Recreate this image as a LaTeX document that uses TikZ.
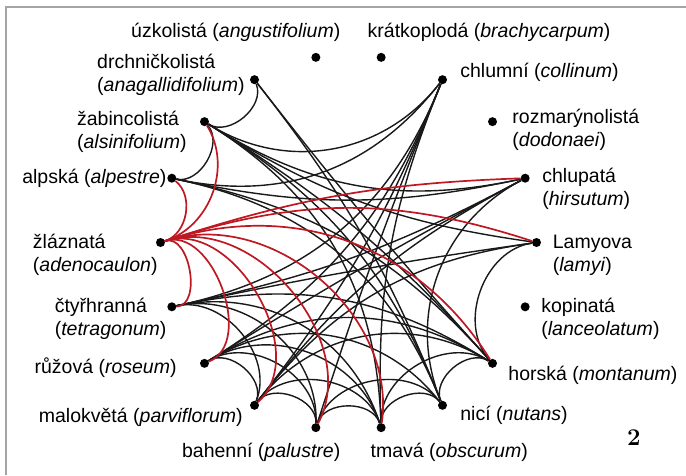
\documentclass[tikz,border=0pt]{standalone}
\usepackage{fontspec}
\setsansfont{Liberation Sans}
\usepackage{tikz}
\usetikzlibrary{positioning, backgrounds}
\definecolor{hybred}{RGB}{190,25,35}
\definecolor{framegray}{RGB}{165,165,165}

\begin{document}
\begin{tikzpicture}[x=1pt, y=1pt, node distance=10pt,
  dot/.style={circle, fill=black, inner sep=0pt, minimum size=9pt},
  lbl/.style={inner sep=0pt, align=left, font=\sffamily\fontsize{19.5}{23}\selectfont},
  blk/.style={black!90, line width=1.4pt},
  hyb/.style={hybred, line width=1.7pt}]

  \useasboundingbox (0,0) rectangle (686,475);
  \draw[framegray, line width=2pt] (6,0) |- (686,468);

  % species on the circle
  \begin{scope}[shift={(348.5,232.5)}]
    \node[dot] (Lam) at (0:188) {};
    \node[dot] (Hir) at (20:188) {};
    \node[dot] (Dod) at (40:188) {};
    \node[dot] (Col) at (60:188) {};
    \node[dot] (Bra) at (80:188) {};
    \node[dot] (Ang) at (100:188) {};
    \node[dot] (Ana) at (120:188) {};
    \node[dot] (Als) at (140:188) {};
    \node[dot] (Alp) at (160:188) {};
    \node[dot] (Ade) at (180:188) {};
    \node[dot] (Tet) at (200:188) {};
    \node[dot] (Ros) at (220:188) {};
    \node[dot] (Par) at (240:188) {};
    \node[dot] (Pal) at (260:188) {};
    \node[dot] (Obs) at (280:188) {};
    \node[dot] (Nut) at (300:188) {};
    \node[dot] (Mon) at (320:188) {};
    \node[dot] (Lan) at (340:188) {};
  \end{scope}

  % names
  \node[lbl, above left=12pt and -28pt of Ang] (AngL) {úzkolistá (\textit{angustifolium})};
  \node[lbl, above right=12pt and -17pt of Bra] (BraL) {krátkoplodá (\textit{brachycarpum})};
  \node[lbl, left=5pt of Ana, yshift=5pt] (AnaL) {drchničkolistá\\(\textit{anagallidifolium})};
  \node[lbl, left=13pt of Als, yshift=-10pt] (AlsL) {žabincolistá\\(\textit{alsinifolium})};
  \node[lbl, left=0.5pt of Alp] (AlpL) {alpská (\textit{alpestre})};
  \node[lbl, left=-2pt of Ade, yshift=-12pt] (AdeL) {žláznatá\\(\textit{adenocaulon})};
  \node[lbl, left=0.5pt of Tet, yshift=-11.7pt] (TetL) {čtyřhranná\\(\textit{tetragonum})};
  \node[lbl, left=23pt of Ros, yshift=-4.7pt] (RosL) {růžová (\textit{roseum})};
  \node[lbl, left=7pt of Par, yshift=-11.7pt] (ParL) {malokvětá (\textit{parviflorum})};
  \node[lbl, below left=12pt and -28pt of Pal] (PalL) {bahenní (\textit{palustre})};
  \node[lbl, below right=12pt and -14pt of Obs] (ObsL) {tmavá (\textit{obscurum})};
  \node[lbl, right=13pt of Nut, yshift=-9.7pt] (NutL) {nicí (\textit{nutans})};
  \node[lbl, right=11pt of Mon, yshift=-11.7pt] (MonL) {horská (\textit{montanum})};
  \node[lbl, right=11.3pt of Lan, yshift=-12.2pt] (LanL) {kopinatá\\(\textit{lanceolatum})};
  \node[lbl, right=11.5pt of Lam, yshift=-12.5pt] (LamL) {Lamyova\\(\textit{lamyi})};
  \node[lbl, right=12.3pt of Hir, yshift=-10.3pt] (HirL) {chlupatá\\(\textit{hirsutum})};
  \node[lbl, right=15pt of Dod, yshift=-8.3pt] (DodL) {rozmarýnolistá\\(\textit{dodonaei})};
  \node[lbl, right=13pt of Col, yshift=7.7pt] (ColL) {chlumní (\textit{collinum})};
  \node[font=\rmfamily\bfseries\fontsize{24}{28}\selectfont] (Num) at (634,37) {2};

  % hybrids
  \begin{scope}[on background layer]
  \draw[blk] (Alp) to[out=348, in=312] (Als);
  \draw[blk] (Als) to[out=328, in=292] (Ana);
  \draw[blk] (Ana) to[out=308, in=132] (Mon);
  \draw[blk] (Ana) to[out=308, in=112] (Nut);
  \draw[blk] (Als) to[out=328, in=192] (Hir);
  \draw[blk] (Als) to[out=328, in=172] (Lam);
  \draw[blk] (Als) to[out=328, in=132] (Mon);
  \draw[blk] (Als) to[out=328, in=112] (Nut);
  \draw[blk] (Als) to[out=328, in=92] (Obs);
  \draw[blk] (Als) to[out=328, in=232] (Col);
  \draw[blk] (Alp) to[out=348, in=192] (Hir);
  \draw[blk] (Alp) to[out=348, in=132] (Mon);
  \draw[blk] (Alp) to[out=348, in=112] (Nut);
  \draw[blk] (Alp) to[out=348, in=232] (Col);
  \draw[blk] (Col) to[out=248, in=92] (Obs);
  \draw[blk] (Col) to[out=248, in=72] (Pal);
  \draw[blk] (Col) to[out=248, in=52] (Par);
  \draw[blk] (Col) to[out=248, in=32] (Ros);
  \draw[blk] (Col) to[out=248, in=12] (Tet);
  \draw[blk] (Hir) to[out=208, in=112] (Nut);
  \draw[blk] (Hir) to[out=208, in=12] (Tet);
  \draw[blk] (Hir) to[out=208, in=32] (Ros);
  \draw[blk] (Hir) to[out=208, in=52] (Par);
  \draw[blk] (Lam) to[out=188, in=132] (Mon);
  \draw[blk] (Lam) to[out=188, in=12] (Tet);
  \draw[blk] (Lam) to[out=188, in=52] (Par);
  \draw[blk] (Mon) to[out=148, in=112] (Nut);
  \draw[blk] (Mon) to[out=148, in=92] (Obs);
  \draw[blk] (Mon) to[out=148, in=12] (Tet);
  \draw[blk] (Mon) to[out=148, in=32] (Ros);
  \draw[blk] (Mon) to[out=148, in=52] (Par);
  \draw[blk] (Nut) to[out=128, in=92] (Obs);
  \draw[blk] (Nut) to[out=128, in=72] (Pal);
  \draw[blk] (Nut) to[out=128, in=32] (Ros);
  \draw[blk] (Obs) to[out=108, in=72] (Pal);
  \draw[blk] (Obs) to[out=108, in=52] (Par);
  \draw[blk] (Obs) to[out=108, in=32] (Ros);
  \draw[blk] (Obs) to[out=108, in=12] (Tet);
  \draw[blk] (Pal) to[out=88, in=52] (Par);
  \draw[blk] (Pal) to[out=88, in=32] (Ros);
  \draw[blk] (Pal) to[out=88, in=12] (Tet);
  \draw[blk] (Par) to[out=68, in=32] (Ros);
  \draw[blk] (Par) to[out=68, in=12] (Tet);

  % hybrids of adenocaulon
  \draw[hyb] (Ade) to[out=18, in=322] (Alp);
  \draw[hyb] (Ade) to[out=18, in=302] (Als);
  \draw[hyb] (Ade) to[out=18, in=182] (Hir);
  \draw[hyb] (Ade) to[out=18, in=162] (Lam);
  \draw[hyb] (Ade) to[out=18, in=122] (Mon);
  \draw[hyb] (Ade) to[out=18, in=82] (Obs);
  \draw[hyb] (Ade) to[out=18, in=62] (Pal);
  \draw[hyb] (Ade) to[out=18, in=42] (Par);
  \draw[hyb] (Ade) to[out=18, in=22] (Ros);
  \draw[hyb] (Ade) to[out=18, in=2] (Tet);
  \end{scope}
\end{tikzpicture}
\end{document}
